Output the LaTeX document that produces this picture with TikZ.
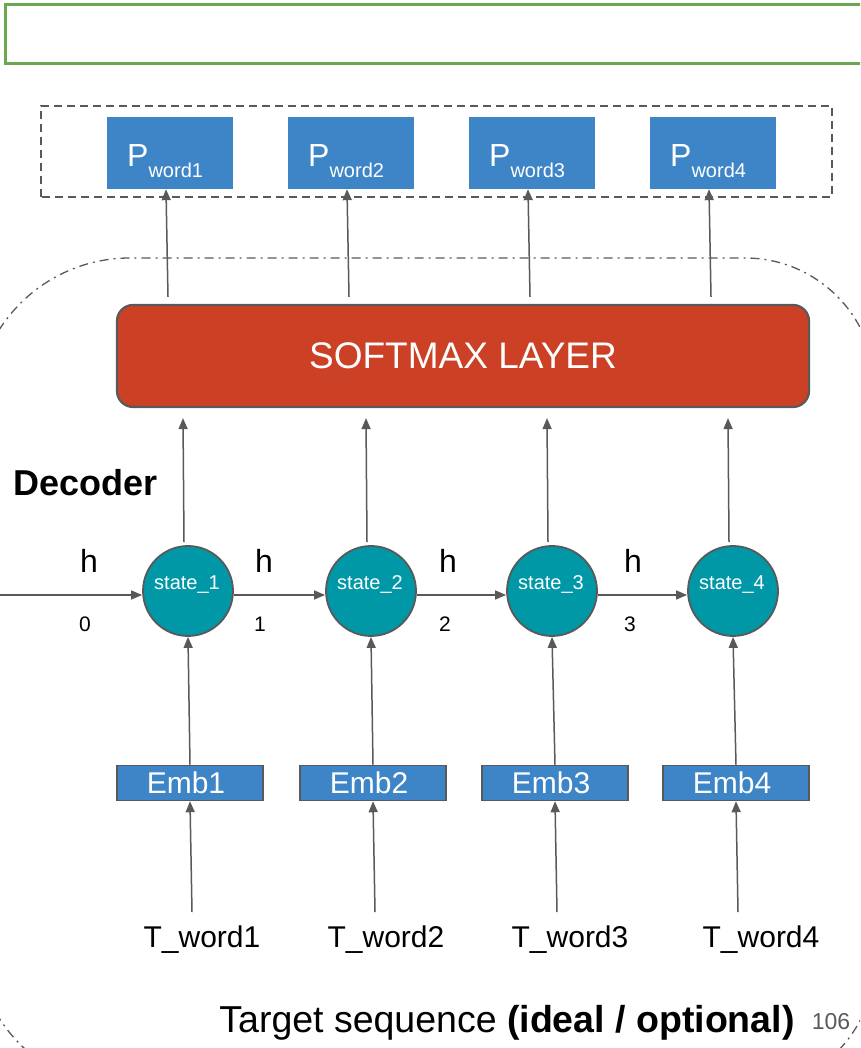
\documentclass[tikz,border=0pt]{standalone}
\usepackage{fontspec}
\setmainfont{Liberation Sans}
\usetikzlibrary{arrows.meta,calc}
\definecolor{gline}{HTML}{595959}
\definecolor{gbox}{HTML}{6AA84F}
\definecolor{bluebox}{HTML}{3D85C6}
\definecolor{tealc}{HTML}{0097A7}
\definecolor{redsm}{HTML}{CC4125}
\newcommand\fsz[1]{\fontsize{#1}{#1}\selectfont}
\begin{document}
\begin{tikzpicture}[x=1pt,y=1pt,
  pbox/.style={fill=bluebox, minimum width=126pt, minimum height=72pt, inner sep=0pt},
  ptext/.style={text=white, font=\fsz{32}, inner sep=0pt, anchor=base west},
  smbox/.style={fill=redsm, draw=gline, line width=2.2pt, rounded corners=16pt, minimum width=692pt, minimum height=102pt, text=white, font=\fsz{37}},
  stnode/.style={circle, fill=tealc, draw=gline, line width=1.8pt, minimum size=90pt, inner sep=0pt},
  sttext/.style={text=white, font=\fsz{20}, inner sep=0pt, anchor=base},
  embbox/.style={fill=bluebox, draw=gline, line width=1.5pt, minimum width=146pt, minimum height=35pt, inner sep=0pt},
  embtext/.style={text=white, font=\fsz{30}, inner sep=0pt},
  twtext/.style={font=\fsz{30}, inner sep=0pt, anchor=base},
  hlab/.style={font=\fsz{32}, inner sep=0pt, anchor=base},
  nlab/.style={font=\fsz{21}, inner sep=0pt, anchor=base},
  arr/.style={draw=gline, line width=1.5pt, -{Triangle[length=11pt,width=9pt]}},
]
\useasboundingbox (0,0) rectangle (860,1048);
\clip (0,0) rectangle (860,1048);

% top green box
\draw[gbox, line width=3pt] (880,1043) -- (5,1043) -- (5,984) -- (880,984);

% dashed output group
\draw[gline, line width=1.4pt, dash pattern=on 8pt off 5pt] (41,851) rectangle (832,942);

% dash-dot decoder boundary
\draw[gline, line width=1.3pt, dash pattern=on 9pt off 5pt on 2pt off 5pt]
  (-25,113) -- (-25,635) arc[start angle=180, end angle=90, radius=155pt]
  -- (745,790) arc[start angle=90, end angle=0, radius=130pt]
  -- (875,88) arc[start angle=0, end angle=-90, radius=130pt]
  -- (130,-42) arc[start angle=270, end angle=180, radius=155pt] -- cycle;

% P boxes
\foreach \i/\x in {1/170,2/351,3/532,4/713}{
  \node[pbox] (p\i) at (\x,895) {};
  \node[ptext] (p\i t) at ($(p\i.center)+(-43,-14)$) {P\raisebox{-11pt}{\fsz{20}word\i}};
}

% softmax
\node[smbox] (sm) at (463,692) {SOFTMAX LAYER};

% decoder label
\node[font=\fsz{36}\bfseries, inner sep=0pt, anchor=base west] (dec) at (13,552) {Decoder};

% states
\foreach \i/\x in {1/188,2/371,3/552,4/733}{
  \node[stnode] (s\i) at (\x,457) {};
  \node[sttext] (s\i t) at ($(s\i.center)+(-1,1)$) {state\_\i};
}

% embeddings
\foreach \i/\x in {1/190,2/373,3/555,4/736}{
  \node[embbox] (e\i) at (\x,265) {};
  \node[embtext] (e\i t) at ($(e\i.center)+(-4,0)$) {Emb\i};
}

% target words
\foreach \i/\x in {1/202,2/386,3/570,4/761}{
  \node[twtext] (tw\i) at (\x,100) {T\_word\i};
}

% h labels and indices
\foreach \i/\x/\n in {0/89/85,1/264/260,2/448/445,3/633/630}{
  \node[hlab] (h\i) at (\x,475) {h};
  \node[nlab] (n\i) at (\n,416) {\i};
}

% bottom caption
\node[font=\fsz{37.5}, inner sep=0pt, anchor=base] (cap) at (507,16) {Target sequence \textbf{(ideal / optional)}};
\node[font=\fsz{23}, text=gline, inner sep=0pt, anchor=base] (pg) at (831,18) {106};

% connectors
\coordinate (in0) at (0,453);
\draw[arr] (in0) -- ($(s1.west)+(0,-4)$);
\draw[arr] ($(s1.east)+(0,-4)$) -- ($(s2.west)+(0,-4)$);
\draw[arr] ($(s2.east)+(0,-4)$) -- ($(s3.west)+(0,-4)$);
\draw[arr] ($(s3.east)+(0,-4)$) -- ($(s4.west)+(0,-4)$);

\foreach \i in {1,2,3,4}{
  \draw[arr] ($(p\i.south |- sm.north)+(-2,7)$) -- ($(p\i.south)+(-4,0)$);
  \draw[arr] ($(s\i.north)+(-4,3)$) -- ($(s\i.north |- sm.south)+(-5,-10)$);
  \draw[arr] (e\i.north) -- (s\i.south);
  \draw[arr] ($(e\i.south |- tw\i.north)+(2,14)$) -- (e\i.south);
}
\end{tikzpicture}
\end{document}
